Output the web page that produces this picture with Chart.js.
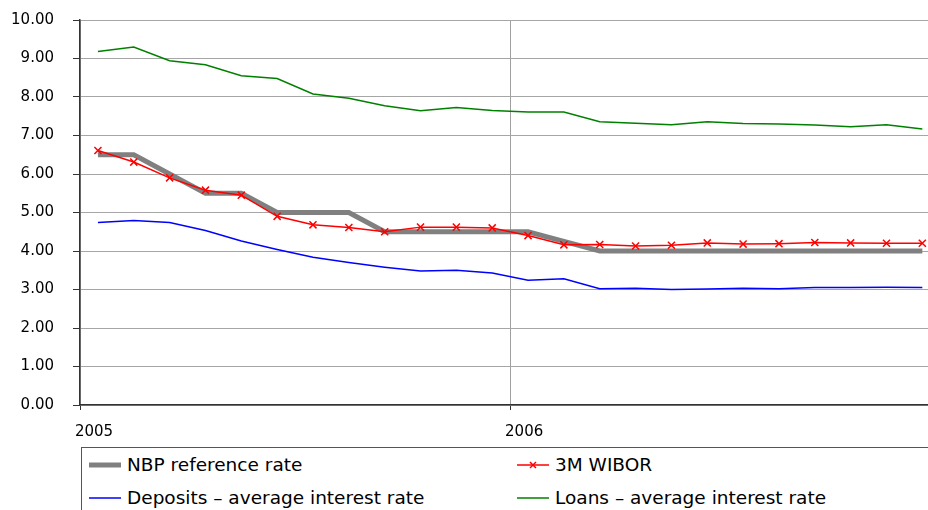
<!DOCTYPE html>
<html>
<head>
<meta charset="utf-8">
<script src="https://cdn.jsdelivr.net/npm/chart.js@4/dist/chart.umd.min.js"></script>
<style>
  html, body { margin: 0; padding: 0; background: #fff; overflow: hidden; }
  #wrap { position: relative; width: 928px; height: 510px; overflow: hidden; }
  #chart { position: absolute; left: 0; top: 0; }
  #legend {
    position: absolute; left: 81px; top: 447px; width: 900px; height: 80px;
    border: 1px solid #555; box-sizing: border-box;
    font-family: "DejaVu Sans", Verdana, sans-serif; font-size: 18.5px; color: #000;
  }
  .item { position: absolute; height: 24px; line-height: 24px; white-space: nowrap; }
  .item svg { position: absolute; left: 0; top: 2px; }
  .item span { position: absolute; left: 38px; top: 0; }
</style>
</head>
<body>
<div id="wrap">
  <!-- plot runs past the right edge of the page, as the series continue beyond view -->
  <canvas id="chart" width="936" height="445"></canvas>
  <div id="legend"></div>
</div>
<script>
// Monthly observations, Jan 2005 – Dec 2006 (%)
const months = [
  '2005-01','2005-02','2005-03','2005-04','2005-05','2005-06',
  '2005-07','2005-08','2005-09','2005-10','2005-11','2005-12',
  '2006-01','2006-02','2006-03','2006-04','2006-05','2006-06',
  '2006-07','2006-08','2006-09','2006-10','2006-11','2006-12'
];
const yearLabels = { 0: '2005', 12: '2006' };

const nbpRate = [6.50, 6.50, 6.00, 5.50, 5.50, 5.00, 5.00, 5.00, 4.50, 4.50, 4.50, 4.50,
                 4.50, 4.25, 4.00, 4.00, 4.00, 4.00, 4.00, 4.00, 4.00, 4.00, 4.00, 4.00];
const wibor3m = [6.61, 6.31, 5.90, 5.58, 5.45, 4.90, 4.68, 4.61, 4.50, 4.62, 4.62, 4.60,
                 4.40, 4.16, 4.17, 4.13, 4.15, 4.21, 4.18, 4.19, 4.22, 4.21, 4.20, 4.20];
const deposits = [4.74, 4.79, 4.74, 4.53, 4.26, 4.04, 3.84, 3.70, 3.58, 3.48, 3.50, 3.43,
                  3.24, 3.28, 3.02, 3.03, 3.00, 3.01, 3.03, 3.02, 3.05, 3.05, 3.06, 3.05];
const loans = [9.18, 9.30, 8.94, 8.84, 8.55, 8.48, 8.08, 7.97, 7.77, 7.64, 7.73, 7.65,
               7.61, 7.61, 7.36, 7.32, 7.28, 7.36, 7.31, 7.30, 7.27, 7.23, 7.28, 7.17];

const seriesNames = ['NBP reference rate', '3M WIBOR', 'Deposits \u2013 average interest rate', 'Loans \u2013 average interest rate'];

// each month sits in the middle of its slot on a continuous month axis
const toPoints = arr => arr.map((v, i) => ({ x: i + 0.5, y: v }));

const FONT = '"DejaVu Sans", Verdana, sans-serif';

const datasets = [
  { label: seriesNames[0], data: toPoints(nbpRate), borderColor: '#808080', borderWidth: 5,
    pointRadius: 0, order: 3, borderJoinStyle: 'miter', borderCapStyle: 'butt' },
  { label: seriesNames[1], data: toPoints(wibor3m), borderColor: '#ff0000', borderWidth: 1.5,
    pointStyle: 'crossRot', pointRadius: 5, pointBorderWidth: 1.5, pointBorderColor: '#ff0000',
    pointBackgroundColor: '#ff0000', order: 0 },
  { label: seriesNames[2], data: toPoints(deposits), borderColor: '#0000ff', borderWidth: 1.5,
    pointRadius: 0, order: 2 },
  { label: seriesNames[3], data: toPoints(loans), borderColor: '#008000', borderWidth: 1.5,
    pointRadius: 0, order: 1 }
];

new Chart(document.getElementById('chart'), {
  type: 'line',
  data: { datasets },
  options: {
    responsive: false,
    animation: false,
    layout: { padding: { top: 20, right: 0, bottom: 0, left: 0 } },
    plugins: { legend: { display: false }, tooltip: { enabled: false } },
    elements: { line: { tension: 0 } },
    scales: {
      x: {
        type: 'linear',
        min: 0,
        max: 23.70,
        afterBuildTicks: s => { s.ticks = Object.keys(yearLabels).map(k => ({ value: +k })); },
        afterFit: s => { s.height = 40; s.paddingLeft = 0; s.paddingRight = 0; },
        ticks: {
          callback: v => yearLabels[v] ?? '',
          labelOffset: 14,
          padding: 13,
          maxRotation: 0,
          autoSkip: false,
          color: '#000',
          font: { family: FONT, size: 15 }
        },
        grid: { color: '#a0a0a0', lineWidth: 1, tickLength: 5, tickColor: '#333' },
        border: { color: '#333', width: 1.5 }
      },
      y: {
        min: 0,
        max: 10,
        afterFit: s => { s.width = 80; s.paddingTop = 0; s.paddingBottom = 0; },
        ticks: {
          stepSize: 1,
          callback: v => v.toFixed(2),
          padding: 19,
          color: '#000',
          font: { family: FONT, size: 15 }
        },
        grid: { color: '#a6a6a6', lineWidth: 1, tickLength: 7, tickColor: '#333' },
        border: { color: '#333', width: 1.5 }
      }
    }
  }
});

// legend laid out in two columns under the plot
const legend = document.getElementById('legend');
const legendPos = [[7, 5], [435, 5], [7, 38], [435, 38]];
datasets.forEach((ds, i) => {
  const item = document.createElement('div');
  item.className = 'item';
  item.style.left = legendPos[i][0] + 'px';
  item.style.top = legendPos[i][1] + 'px';
  const w = ds.borderWidth;
  let svg = '<svg width="34" height="20" xmlns="http://www.w3.org/2000/svg">' +
    '<line x1="0" y1="10" x2="32" y2="10" stroke="' + ds.borderColor + '" stroke-width="' + w + '"/>';
  if (ds.pointStyle === 'crossRot') {
    svg += '<line x1="13" y1="7" x2="19" y2="13" stroke="' + ds.borderColor + '" stroke-width="1.5"/>' +
           '<line x1="13" y1="13" x2="19" y2="7" stroke="' + ds.borderColor + '" stroke-width="1.5"/>';
  }
  svg += '</svg>';
  item.innerHTML = svg + '<span></span>';
  item.querySelector('span').textContent = ds.label;
  legend.appendChild(item);
});
</script>
</body>
</html>
